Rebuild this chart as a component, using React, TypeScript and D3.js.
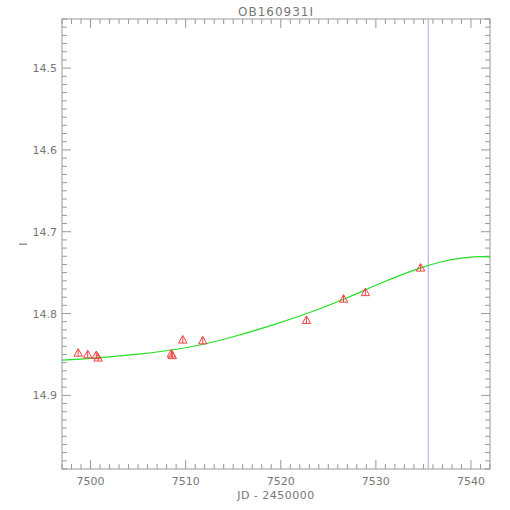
import React from "react";
import * as d3 from "d3";

const title = "OB160931I";
const xLabel = "JD - 2450000";
const yLabel = "I";
const xDomain = [7497, 7542];
const yDomain = [14.44, 14.99];
const xTicks = [7500, 7510, 7520, 7530, 7540];
const yTicks = [14.5, 14.6, 14.7, 14.8, 14.9];
const vLineJD = 7535.5;

const dataJD = [7498.7, 7499.7, 7500.6, 7500.8, 7508.5, 7508.6, 7509.7, 7511.8, 7522.7, 7526.6, 7528.9, 7534.7];
const dataMag = [14.848, 14.850, 14.851, 14.854, 14.849, 14.851, 14.832, 14.833, 14.808, 14.782, 14.774, 14.744];
const dataErr = [0.004, 0.004, 0.004, 0.004, 0.004, 0.004, 0.004, 0.004, 0.004, 0.004, 0.004, 0.004];

const modelJD = [7497, 7500, 7505, 7510, 7515, 7520, 7524, 7527, 7531, 7534.6, 7537, 7539, 7541, 7542];
const modelMag = [14.857, 14.855, 14.850, 14.843, 14.829, 14.811, 14.795, 14.781, 14.760, 14.744, 14.736, 14.732, 14.730, 14.731];

const W = 510, H = 510;
const L = 62, R = 490, T = 19, B = 469;

export default function App() {
  const x = d3.scaleLinear().domain(xDomain).range([L, R]);
  const y = d3.scaleLinear().domain(yDomain).range([T, B]);
  const axisColor = "#999";
  const textColor = "#777";
  const font = "DejaVu Sans, sans-serif";

  const xMinor = d3.range(Math.ceil(xDomain[0]), Math.floor(xDomain[1]) + 1);
  const yMinor = d3.range(Math.ceil(yDomain[0] * 100), Math.floor(yDomain[1] * 100) + 1).map((v) => v / 100);
  const isMajorX = (v: number) => Math.abs(v % 10) < 1e-6;
  const isMajorY = (v: number) => yTicks.some((t) => Math.abs(t - v) < 1e-6);

  const line = d3
    .line<number>()
    .x((_, i) => x(modelJD[i]))
    .y((d) => y(d))
    .curve(d3.curveBasis);

  const tri = (cx: number, cy: number) => {
    const s = 4.2;
    return `M${cx - s},${cy + s * 0.8}L${cx + s},${cy + s * 0.8}L${cx},${cy - s * 1.0}Z`;
  };

  return (
    <svg width={W} height={H} style={{ position: "absolute", left: 0, top: 0, background: "#fff" }}>
      <rect x={0} y={0} width={W} height={H} fill="#fff" />
      <text x={(L + R) / 2} y={16} textAnchor="middle" fontSize={12} fill={textColor} fontFamily={font} letterSpacing={1}>
        {title}
      </text>
      <rect x={L} y={T} width={R - L} height={B - T} fill="none" stroke={axisColor} strokeWidth={1} />
      {xMinor.map((v) => {
        const len = isMajorX(v) ? 9 : 5;
        const px = x(v);
        return (
          <g key={"xt" + v}>
            <line x1={px} x2={px} y1={B} y2={B - len} stroke={axisColor} />
            <line x1={px} x2={px} y1={T} y2={T + len} stroke={axisColor} />
          </g>
        );
      })}
      {yMinor.map((v) => {
        const len = isMajorY(v) ? 9 : 5;
        const py = y(v);
        return (
          <g key={"yt" + v}>
            <line x1={L} x2={L + len} y1={py} y2={py} stroke={axisColor} />
            <line x1={R} x2={R - len} y1={py} y2={py} stroke={axisColor} />
          </g>
        );
      })}
      {xTicks.map((v) => (
        <text key={"xl" + v} x={x(v)} y={485} textAnchor="middle" fontSize={11} fill={textColor} fontFamily={font}>
          {v}
        </text>
      ))}
      {yTicks.map((v) => (
        <text key={"yl" + v} x={57} y={y(v) + 4} textAnchor="end" fontSize={11} fill={textColor} fontFamily={font}>
          {v.toFixed(1)}
        </text>
      ))}
      <text x={(L + R) / 2} y={499} textAnchor="middle" fontSize={11} fill={textColor} fontFamily={font} letterSpacing={0.5}>
        {xLabel}
      </text>
      <text
        x={0}
        y={0}
        transform={`translate(27,${(T + B) / 2}) rotate(-90)`}
        textAnchor="middle"
        fontSize={11}
        fill={textColor}
        fontFamily={font}
      >
        {yLabel}
      </text>
      <line x1={x(vLineJD)} x2={x(vLineJD)} y1={T} y2={B} stroke="#a8a8e8" strokeWidth={1} />
      <path d={line(modelMag) || ""} fill="none" stroke="#22e022" strokeWidth={1.2} />
      {dataJD.map((jd, i) => {
        const cx = x(jd);
        const cy = y(dataMag[i]);
        return (
          <g key={"d" + i} stroke="#f04040" fill="none" strokeWidth={1}>
            <path d={tri(cx, cy)} />
            <line x1={cx} x2={cx} y1={y(dataMag[i] - dataErr[i])} y2={y(dataMag[i] + dataErr[i])} />
          </g>
        );
      })}
    </svg>
  );
}
